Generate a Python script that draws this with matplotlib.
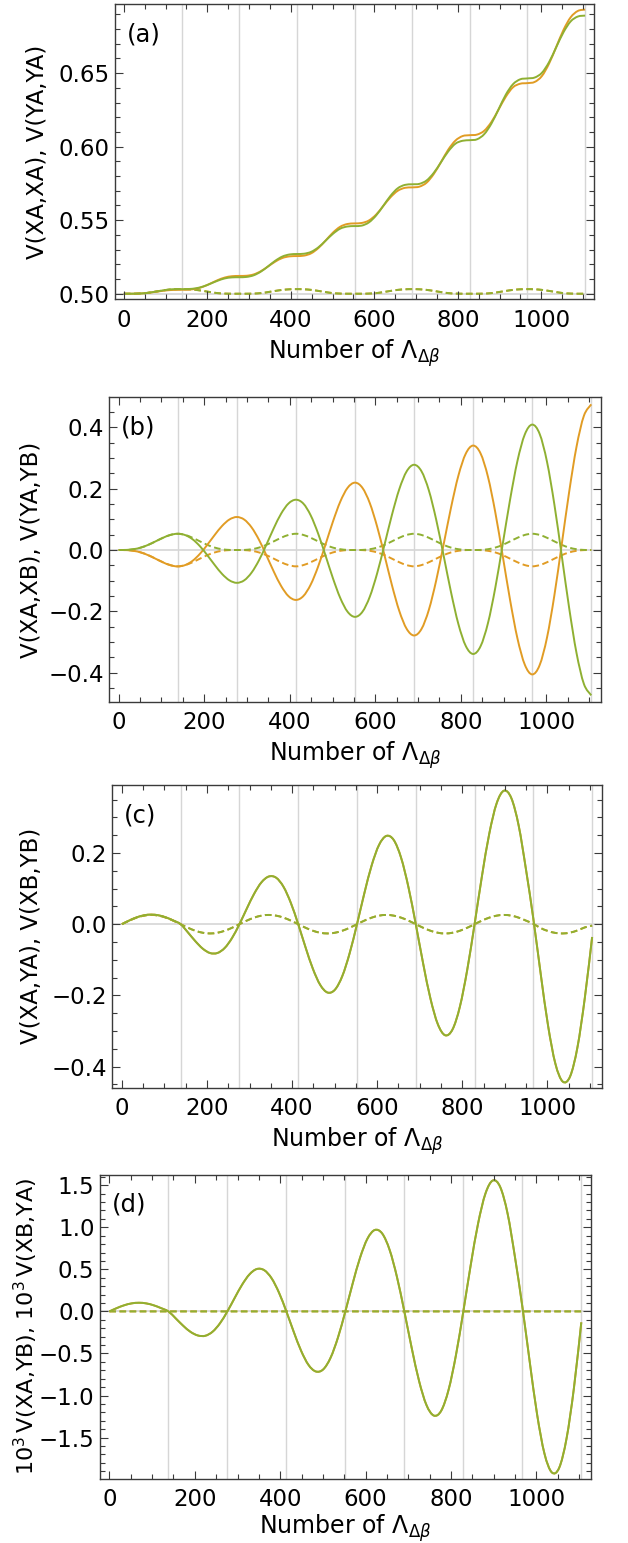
import numpy as np
import matplotlib
matplotlib.use("Agg")
import matplotlib.pyplot as plt
from matplotlib.ticker import MultipleLocator, FuncFormatter
from matplotlib.path import Path
from matplotlib.patches import PathPatch

# === DATA ===
# 65 samples from 0 to 1105 (8 beat lengths, 8 samples each)
x_vals = np.linspace(0, 1105, 65)
grid_x = [138.1, 276.2, 414.4, 552.5, 690.6, 828.7, 966.9, 1105.0]

# (a) V(XA,XA) orange, V(YA,YA) green, dashed = same for both
a_orange = [0.5000, 0.5000, 0.5001, 0.5004, 0.5010, 0.5017, 0.5023, 0.5026, 0.5027,
            0.5028, 0.5034, 0.5048, 0.5069, 0.5092, 0.5110, 0.5119, 0.5121,
            0.5122, 0.5131, 0.5153, 0.5185, 0.5218, 0.5243, 0.5254, 0.5256,
            0.5259, 0.5275, 0.5311, 0.5362, 0.5415, 0.5455, 0.5474, 0.5478,
            0.5481, 0.5498, 0.5538, 0.5597, 0.5656, 0.5700, 0.5720, 0.5723,
            0.5728, 0.5755, 0.5814, 0.5895, 0.5979, 0.6041, 0.6072, 0.6078,
            0.6082, 0.6108, 0.6168, 0.6253, 0.6340, 0.6404, 0.6428, 0.6432,
            0.6440, 0.6480, 0.6565, 0.6679, 0.6794, 0.6880, 0.6923, 0.6932]
a_green = [0.5000, 0.5000, 0.5001, 0.5004, 0.5011, 0.5019, 0.5027, 0.5031, 0.5031,
           0.5032, 0.5037, 0.5049, 0.5068, 0.5088, 0.5104, 0.5111, 0.5112,
           0.5114, 0.5125, 0.5150, 0.5186, 0.5224, 0.5253, 0.5267, 0.5270,
           0.5272, 0.5285, 0.5316, 0.5361, 0.5407, 0.5442, 0.5457, 0.5460,
           0.5463, 0.5485, 0.5532, 0.5598, 0.5666, 0.5717, 0.5740, 0.5744,
           0.5747, 0.5770, 0.5822, 0.5894, 0.5967, 0.6020, 0.6040, 0.6044,
           0.6050, 0.6085, 0.6157, 0.6255, 0.6354, 0.6425, 0.6458, 0.6464,
           0.6470, 0.6502, 0.6575, 0.6677, 0.6778, 0.6852, 0.6885, 0.6891]
a_dashed = [0.5000, 0.5000, 0.5001, 0.5004, 0.5011, 0.5019, 0.5026, 0.5030, 0.5031,
            0.5030, 0.5026, 0.5019, 0.5011, 0.5004, 0.5001, 0.5000, 0.5000,
            0.5000, 0.5001, 0.5004, 0.5011, 0.5019, 0.5026, 0.5030, 0.5031,
            0.5030, 0.5026, 0.5019, 0.5011, 0.5004, 0.5001, 0.5000, 0.5000,
            0.5000, 0.5001, 0.5004, 0.5011, 0.5019, 0.5026, 0.5030, 0.5031,
            0.5030, 0.5026, 0.5019, 0.5011, 0.5004, 0.5001, 0.5000, 0.5000,
            0.5000, 0.5001, 0.5004, 0.5011, 0.5019, 0.5026, 0.5030, 0.5031,
            0.5030, 0.5026, 0.5019, 0.5011, 0.5004, 0.5001, 0.5000, 0.5000]

# (b) V(XA,XB) orange, V(YA,YB) green
b_orange = [0.0, -0.0003, -0.0026, -0.0080, -0.0170, -0.0285, -0.0403, -0.0497, -0.0535,
            -0.0491, -0.0353, -0.0124, 0.0171, 0.0491, 0.0785, 0.0996, 0.1076,
            0.0992, 0.0736, 0.0332, -0.0172, -0.0703, -0.1175, -0.1506, -0.1628,
            -0.1503, -0.1128, -0.0544, 0.0174, 0.0919, 0.1574, 0.2029, 0.2197,
            0.2029, 0.1532, 0.0762, -0.0176, -0.1144, -0.1989, -0.2572, -0.2787,
            -0.2577, -0.1952, -0.0989, 0.0179, 0.1379, 0.2424, 0.3142, 0.3406,
            0.3152, 0.2394, 0.1228, -0.0183, -0.1628, -0.2883, -0.3742, -0.4057,
            -0.3757, -0.2858, -0.1479, 0.0187, 0.1890, 0.3368, 0.4378, 0.4750]
b_green = [0.0, 0.0003, 0.0026, 0.0080, 0.0169, 0.0283, 0.0399, 0.0492, 0.0530,
           0.0487, 0.0351, 0.0124, -0.0170, -0.0488, -0.0781, -0.0990, -0.1070,
           -0.0988, -0.0735, -0.0334, 0.0174, 0.0711, 0.1187, 0.1518, 0.1640,
           0.1515, 0.1130, 0.0541, -0.0174, -0.0913, -0.1562, -0.2015, -0.2180,
           -0.2016, -0.1525, -0.0760, 0.0177, 0.1143, 0.1986, 0.2567, 0.2780,
           0.2570, 0.1946, 0.0985, -0.0178, -0.1372, -0.2413, -0.3128, -0.3390,
           -0.3140, -0.2390, -0.1230, 0.0184, 0.1640, 0.2905, 0.3772, 0.4090,
           0.3790, 0.2880, 0.1485, -0.0187, -0.1886, -0.3360, -0.4368, -0.4740]
b_green_dashed = [0.0, 0.0003, 0.0026, 0.0079, 0.0168, 0.0282, 0.0399, 0.0492, 0.0530,
                  0.0492, 0.0399, 0.0282, 0.0168, 0.0079, 0.0026, 0.0003, 0.0,
                  0.0003, 0.0026, 0.0079, 0.0168, 0.0282, 0.0399, 0.0492, 0.0530,
                  0.0492, 0.0399, 0.0282, 0.0168, 0.0079, 0.0026, 0.0003, 0.0,
                  0.0003, 0.0026, 0.0079, 0.0168, 0.0282, 0.0399, 0.0492, 0.0530,
                  0.0492, 0.0399, 0.0282, 0.0168, 0.0079, 0.0026, 0.0003, 0.0,
                  0.0003, 0.0026, 0.0079, 0.0168, 0.0282, 0.0399, 0.0492, 0.0530,
                  0.0492, 0.0399, 0.0282, 0.0168, 0.0079, 0.0026, 0.0003, 0.0]
b_orange_dashed = [0.0, -0.0003, -0.0026, -0.0079, -0.0168, -0.0282, -0.0399, -0.0492, -0.0533,
                   -0.0492, -0.0399, -0.0282, -0.0168, -0.0079, -0.0026, -0.0003, 0.0,
                   -0.0003, -0.0026, -0.0079, -0.0168, -0.0282, -0.0399, -0.0492, -0.0533,
                   -0.0492, -0.0399, -0.0282, -0.0168, -0.0079, -0.0026, -0.0003, 0.0,
                   -0.0003, -0.0026, -0.0079, -0.0168, -0.0282, -0.0399, -0.0492, -0.0533,
                   -0.0492, -0.0399, -0.0282, -0.0168, -0.0079, -0.0026, -0.0003, 0.0,
                   -0.0003, -0.0026, -0.0079, -0.0168, -0.0282, -0.0399, -0.0492, -0.0533,
                   -0.0492, -0.0399, -0.0282, -0.0168, -0.0079, -0.0026, -0.0003, 0.0]

# (c) V(XA,YA) and V(XB,YB) (coincide)
c_solid = [0.0, 0.0103, 0.0191, 0.0249, 0.0270, 0.0249, 0.0191, 0.0103, 0.0,
           -0.0233, -0.0477, -0.0686, -0.0810, -0.0809, -0.0667, -0.0386, 0.0,
           0.0437, 0.0854, 0.1177, 0.1340, 0.1305, 0.1050, 0.0596, 0.0,
           -0.0652, -0.1255, -0.1707, -0.1920, -0.1839, -0.1457, -0.0815, 0.0,
           0.0869, 0.1655, 0.2227, 0.2480, 0.2365, 0.1867, 0.1041, 0.0,
           -0.1102, -0.2093, -0.2809, -0.3120, -0.2956, -0.2318, -0.1284, 0.0,
           0.1345, 0.2541, 0.3392, 0.3750, 0.3543, 0.2772, 0.1533, 0.0150,
           -0.1396, -0.2848, -0.3920, -0.4421, -0.4277, -0.3459, -0.2078, -0.0360]
c_dashed = [0.0, 0.0100, 0.0184, 0.0240, 0.0260, 0.0240, 0.0184, 0.0100, 0.0,
            -0.0100, -0.0184, -0.0240, -0.0260, -0.0240, -0.0184, -0.0100, 0.0,
            0.0100, 0.0184, 0.0240, 0.0260, 0.0240, 0.0184, 0.0100, 0.0,
            -0.0100, -0.0184, -0.0240, -0.0260, -0.0240, -0.0184, -0.0100, 0.0,
            0.0100, 0.0184, 0.0240, 0.0260, 0.0240, 0.0184, 0.0100, 0.0,
            -0.0100, -0.0184, -0.0240, -0.0260, -0.0240, -0.0184, -0.0100, 0.0,
            0.0100, 0.0184, 0.0240, 0.0260, 0.0240, 0.0184, 0.0100, 0.0010,
            -0.0110, -0.0192, -0.0245, -0.0260, -0.0236, -0.0176, -0.0090, -0.0040]

# (d) 10^3 V(XA,YB) and 10^3 V(XB,YA)
d_solid = [0.0, 0.0394, 0.0728, 0.0952, 0.1030, 0.0952, 0.0728, 0.0394, 0.0,
           -0.0832, -0.1699, -0.2431, -0.2860, -0.2895, -0.2408, -0.1408, 0.0,
           0.1616, 0.3178, 0.4405, 0.5040, 0.4899, 0.3935, 0.2230, 0.0,
           -0.2431, -0.4678, -0.6355, -0.7140, -0.6890, -0.5498, -0.3097, 0.0,
           0.3340, 0.6396, 0.8650, 0.9680, 0.9256, 0.7322, 0.4092, 0.0,
           -0.4350, -0.8277, -1.1127, -1.2380, -1.1806, -0.9316, -0.5194, 0.0,
           0.5499, 1.0440, 1.4009, 1.5560, 1.4793, 1.1641, 0.6473, 0.0600,
           -0.5958, -1.2214, -1.6888, -1.9132, -1.8589, -1.5095, -0.9102, -0.1300]
d_dashed_x = [0, 1105]
d_dashed = [0.0, 0.0]

ORANGE = '#E19C24'
GREEN = '#8FB032'
GRID = '#d6d6d6'
FRAME = '#3a3a3a'
W, H = 628, 1543

plt.rcParams['font.family'] = ['DejaVu Sans']
plt.rcParams['mathtext.fontset'] = 'dejavusans'

fig = plt.figure(figsize=(W / 100, H / 100), dpi=100)


def make_ax(left, right, top, bottom):
    return fig.add_axes([left / W, 1 - bottom / H, (right - left) / W, (bottom - top) / H])


def minus_fmt(fmt):
    return FuncFormatter(lambda v, p: (fmt % v).replace('-', '\u2212'))


def smooth_line(ax, xs, ys, color, ls='-'):
    # smooth curve through the read points, like the original
    pts = np.column_stack([xs, ys]).astype(float)
    verts = [pts[0]]
    codes = [Path.MOVETO]
    n = len(pts)
    for i in range(n - 1):
        p0 = pts[max(i - 1, 0)]
        p1 = pts[i]
        p2 = pts[i + 1]
        p3 = pts[min(i + 2, n - 1)]
        verts += [p1 + (p2 - p0) / 6, p2 - (p3 - p1) / 6, p2]
        codes += [Path.CURVE4] * 3
    ax.add_patch(PathPatch(Path(verts, codes), fill=False, edgecolor=color,
                           lw=LW, linestyle=ls, capstyle='butt', joinstyle='round'))


def setup_ax(ax, ylim, ymaj, ymin, yfmt, hline):
    ax.set_xlim(-22, 1127)
    ax.set_ylim(*ylim)
    for gx in grid_x:
        ax.axvline(gx, color=GRID, lw=1.0, zorder=0)
    ax.axhline(hline, color=GRID, lw=1.2, zorder=0)
    ax.xaxis.set_major_locator(MultipleLocator(200))
    ax.xaxis.set_minor_locator(MultipleLocator(50))
    ax.yaxis.set_major_locator(MultipleLocator(ymaj))
    ax.yaxis.set_minor_locator(MultipleLocator(ymin))
    ax.yaxis.set_major_formatter(minus_fmt(yfmt))
    ax.tick_params(which='both', direction='in', top=True, right=True,
                   color=FRAME, width=0.8, labelsize=16.5)
    ax.tick_params(which='major', length=6)
    ax.tick_params(which='minor', length=3.5)
    ax.tick_params(axis='x', pad=7)
    ax.tick_params(axis='y', pad=4)
    for sp in ax.spines.values():
        sp.set_color(FRAME)
        sp.set_linewidth(1.0)


def add_texts(ax, tag, ylabel, ylab_x, left, right, top, bottom, ysize=16.5, xlab_gap=59):
    ax.annotate(tag, xy=(0, 1), xycoords='axes fraction', xytext=(8.5, -13),
                textcoords='offset points', ha='left', va='top', fontsize=17.5)
    fig.text(ylab_x / W, 1 - (top + bottom) / 2 / H, ylabel, rotation=90,
             ha='center', va='center', fontsize=ysize)
    fig.text((left + right) / 2 / W, 1 - (bottom + xlab_gap) / H,
             r'Number of $\Lambda_{\Delta\beta}$', ha='center', va='baseline', fontsize=17)


LW = 1.4
DASH = (0, (3.4, 1.8))

# === (a) ===
box = (114.7, 594.3, 4, 299.3)
ax = make_ax(*box)
setup_ax(ax, (0.4962, 0.6970), 0.05, 0.01, '%.2f', 0.5)
smooth_line(ax, x_vals, a_dashed, ORANGE, DASH)
smooth_line(ax, x_vals, a_dashed, GREEN, DASH)
smooth_line(ax, x_vals, a_orange, ORANGE)
smooth_line(ax, x_vals, a_green, GREEN)
add_texts(ax, '(a)', 'V(XA,XA), V(YA,YA)', 38, *box)

# === (b) ===
box = (109.3, 600.7, 397.3, 701.5)
ax = make_ax(*box)
setup_ax(ax, (-0.494, 0.498), 0.2, 0.05, '%.1f', 0.0)
smooth_line(ax, x_vals, b_orange_dashed, ORANGE, DASH)
smooth_line(ax, x_vals, b_green_dashed, GREEN, DASH)
smooth_line(ax, x_vals, b_orange, ORANGE)
smooth_line(ax, x_vals, b_green, GREEN)
add_texts(ax, '(b)', 'V(XA,XB), V(YA,YB)', 32, *box)

# === (c) ===
box = (112.5, 601.5, 785, 1087.6)
ax = make_ax(*box)
setup_ax(ax, (-0.459, 0.391), 0.2, 0.05, '%.1f', 0.0)
smooth_line(ax, x_vals, c_dashed, ORANGE, DASH)
smooth_line(ax, x_vals, c_dashed, GREEN, DASH)
smooth_line(ax, x_vals, c_solid, ORANGE)
smooth_line(ax, x_vals, c_solid, GREEN)
add_texts(ax, '(c)', 'V(XA,YA), V(XB,YB)', 32, *box)

# === (d) ===
box = (100.0, 590.7, 1174.7, 1478.5)
ax = make_ax(*box)
setup_ax(ax, (-1.986, 1.625), 0.5, 0.1, '%.1f', 0.0)
smooth_line(ax, d_dashed_x, d_dashed, ORANGE, DASH)
smooth_line(ax, d_dashed_x, d_dashed, GREEN, DASH)
smooth_line(ax, x_vals, d_solid, ORANGE)
smooth_line(ax, x_vals, d_solid, GREEN)
add_texts(ax, '(d)', r'$10^3\,$V(XA,YB), $10^3\,$V(XB,YA)', 26, *box, ysize=16, xlab_gap=55)

fig.savefig('out.png', dpi=100)
